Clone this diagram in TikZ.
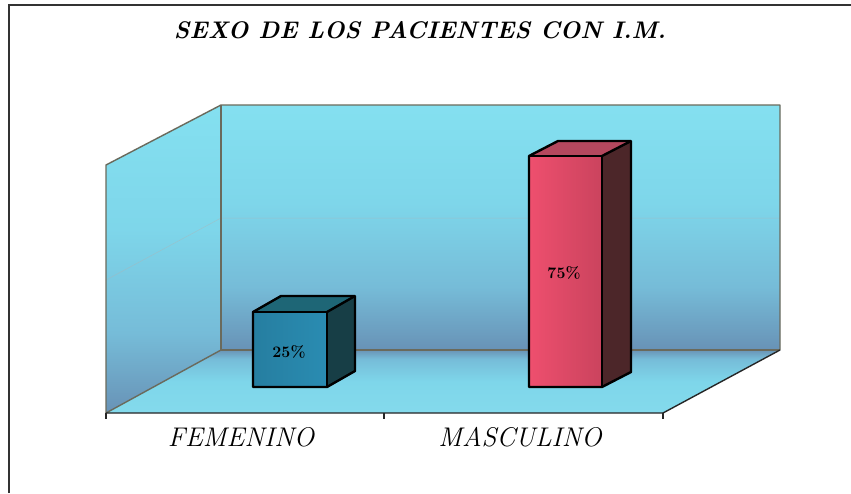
\documentclass[tikz,border=0pt]{standalone}
\usepackage{fontspec}
\definecolor{wallTop}{HTML}{84E0F0}
\definecolor{wallUp}{HTML}{7ED6EA}
\definecolor{wallMid}{HTML}{76BCD8}
\definecolor{wallBot}{HTML}{6892B6}
\definecolor{floorBack}{HTML}{6A94B6}
\definecolor{floorFront}{HTML}{84DAEC}
\definecolor{edgeGray}{HTML}{6A6A5C}
\definecolor{tealFront}{HTML}{2A8CB2}
\definecolor{tealTop}{HTML}{1E6676}
\definecolor{tealSide}{HTML}{173E46}
\definecolor{redFront}{HTML}{EE4F6E}
\definecolor{redTop}{HTML}{B4485E}
\definecolor{redSide}{HTML}{4C2629}
\pgfdeclareverticalshading{wallshade}{100bp}{color(0bp)=(wallBot); color(25bp)=(wallBot); color(38bp)=(wallMid); color(55bp)=(wallUp); color(75bp)=(wallTop); color(100bp)=(wallTop)}
\pgfdeclareverticalshading{floorshade}{100bp}{color(0bp)=(floorFront); color(25bp)=(floorFront); color(50bp)=(wallUp); color(68bp)=(wallMid); color(75bp)=(floorBack); color(100bp)=(floorBack)}
\tikzset{
  walledge/.style={draw=edgeGray, line width=1.4pt, line join=round},
  axisedge/.style={draw=black!85, line width=1.4pt, line join=round},
  barline/.style={draw=black, line width=2.4pt, line join=round},
  barlabel/.style={font=\bfseries\fontsize{16}{16}\selectfont\addfontfeatures{LetterSpace=15}, inner sep=0pt},
  catlabel/.style={font=\itshape\fontsize{27}{27}\selectfont\addfontfeatures{LetterSpace=6}, inner sep=0pt},
  titlelabel/.style={font=\bfseries\itshape\fontsize{24}{24}\selectfont, inner sep=0pt},
  grid/.style={draw=gray!60, line width=0.5pt, opacity=0.5}
}
\begin{document}
\begin{tikzpicture}[x=1pt,y=-1pt]
\useasboundingbox (0,0) rectangle (851,493);
\fill[white] (0,0) rectangle (851,493);
\draw[line width=1.2pt, black!80] (9,493) -- (9,5) -- (851,5);
% frame corners
\coordinate (LFT) at (106,165);
\coordinate (BTL) at (221,105);
\coordinate (BTR) at (780,105);
\coordinate (BBR) at (780,350);
\coordinate (BBL) at (221,350);
\coordinate (FL) at (106,413);
\coordinate (FR) at (663,413);
\coordinate (FM) at (384,413);
% walls and floor
\shade[shading=wallshade] (BTL) rectangle (BBR);
\shade[shading=wallshade] (LFT) -- (BTL) -- (BBL) -- (FL) -- cycle;
\shade[shading=floorshade] (BBL) -- (BBR) -- (FR) -- (FL) -- cycle;
% faint gridline
\draw[grid] (106,280) -- (221,218) -- (780,218);
% edges
\draw[walledge] (FL) -- (LFT) -- (BTL) -- (BTR) -- (BBR);
\draw[walledge] (BTL) -- (BBL) -- (BBR);
\draw[walledge] (BBL) -- (FL);
\draw[axisedge] (BBR) -- (FR) -- (FL);
\draw[axisedge] (FL) -- ++(0,6);
\draw[axisedge] (FM) -- ++(0,6);
\draw[axisedge] (FR) -- ++(0,6);
% teal bar
\coordinate (TA) at (253,312);
\coordinate (TB) at (327,312);
\coordinate (TC) at (327,387);
\coordinate (TD) at (253,387);
\coordinate (TE) at (281,296);
\coordinate (TF) at (355,296);
\coordinate (TG) at (355,371);
\fill[tealTop] (TA) -- (TE) -- (TF) -- (TB) -- cycle;
\fill[tealSide] (TB) -- (TF) -- (TG) -- (TC) -- cycle;
\shade[left color=tealFront!90!black, right color=tealFront] (TA) rectangle (TC);
\draw[barline] (TA) -- (TE) -- (TF) -- (TG) -- (TC) -- (TD) -- cycle;
\draw[barline] (TA) -- (TB) -- (TC);
\draw[barline] (TB) -- (TF);
% red bar
\coordinate (RA) at (529,156);
\coordinate (RB) at (602,156);
\coordinate (RC) at (602,387);
\coordinate (RD) at (529,387);
\coordinate (RE) at (558,141);
\coordinate (RF) at (631,141);
\coordinate (RG) at (631,372);
\fill[redTop] (RA) -- (RE) -- (RF) -- (RB) -- cycle;
\fill[redSide] (RB) -- (RF) -- (RG) -- (RC) -- cycle;
\shade[left color=redFront, right color=redFront!85!black] (RA) rectangle (RC);
\draw[barline] (RA) -- (RE) -- (RF) -- (RG) -- (RC) -- (RD) -- cycle;
\draw[barline] (RA) -- (RB) -- (RC);
\draw[barline] (RB) -- (RF);
% labels
\node[barlabel] (v1) at (289,352) {25\%};
\node[barlabel] (v2) at (564,273) {75\%};
\node[catlabel] (c1) at (241,437) {FEMENINO};
\node[catlabel] (c2) at (520,437) {MASCULINO};
\node[titlelabel] (title) at (420,30) {SEXO DE LOS PACIENTES CON I.M.};
\end{tikzpicture}
\end{document}
